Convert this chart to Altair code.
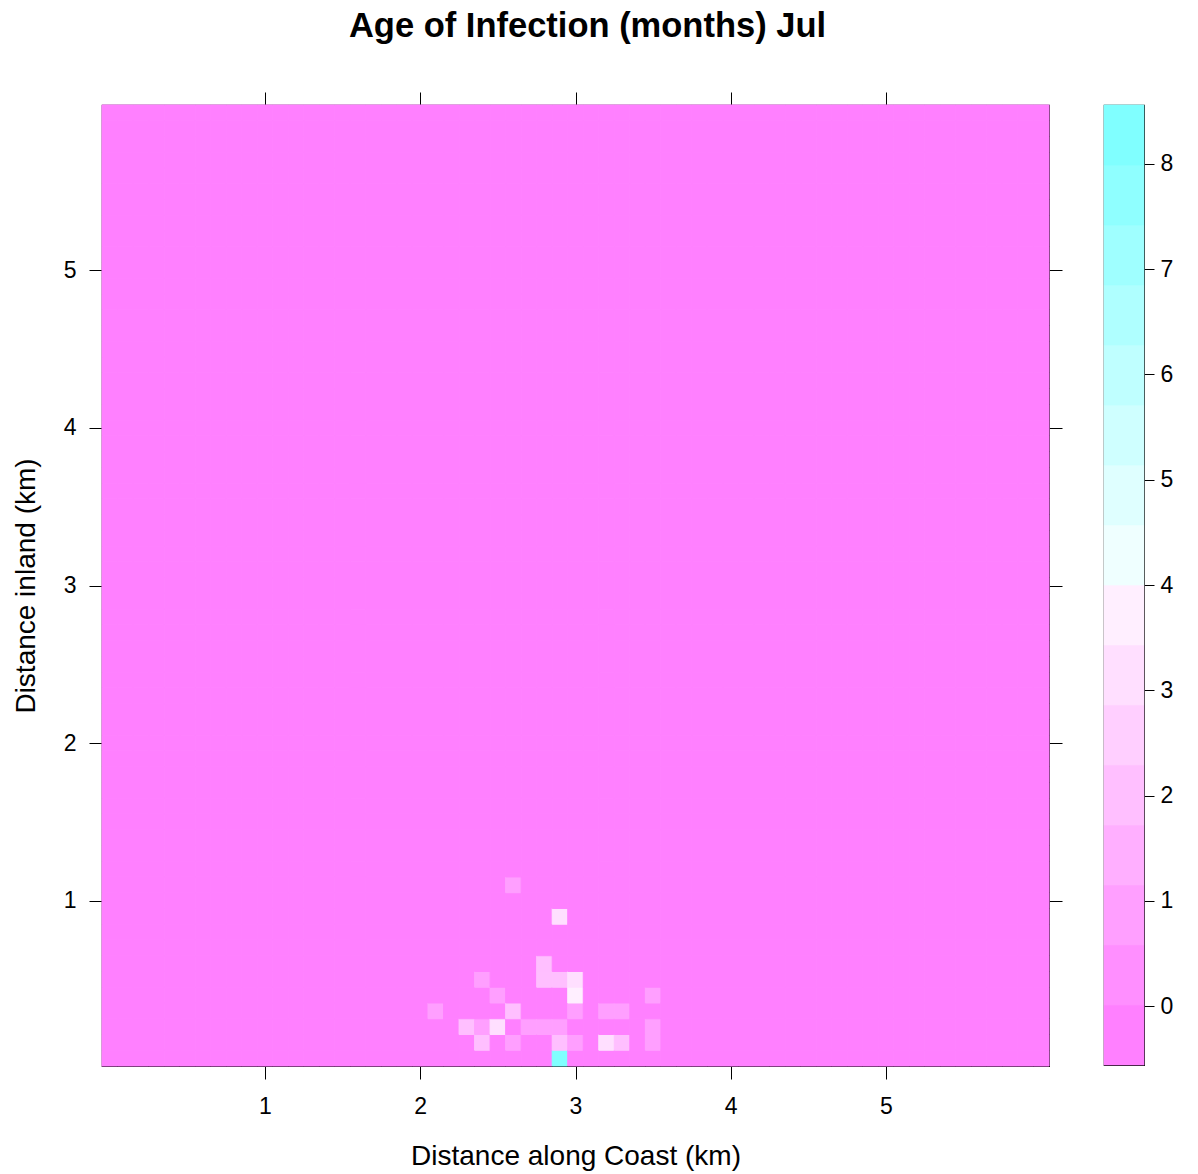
import altair as alt
import pandas as pd

# Cells with a non-zero mean age of infection (km along coast, km inland, months)
cell_x = [2.6, 2.9, 2.8,
          2.4, 2.8, 2.9, 3.0,
          2.5, 3.0, 3.5,
          2.1, 2.6, 3.0, 3.2, 3.3,
          2.3, 2.4, 2.5, 2.7, 2.8, 2.9, 3.5,
          2.4, 2.6, 2.9, 3.0, 3.2, 3.3, 3.5,
          2.9]
cell_y = [1.1, 0.9, 0.6,
          0.5, 0.5, 0.5, 0.5,
          0.4, 0.4, 0.4,
          0.3, 0.3, 0.3, 0.3, 0.3,
          0.2, 0.2, 0.2, 0.2, 0.2, 0.2, 0.2,
          0.1, 0.1, 0.1, 0.1, 0.1, 0.1, 0.1,
          0.0]
cell_age = [1, 3, 2,
            1, 2, 2, 3,
            1, 3.9, 1,
            1, 2, 1, 1, 1,
            2, 1, 3, 1, 1, 1, 1,
            2, 1, 2, 1, 3, 2, 1,
            8]

# 0.1 km grid covering 0..6 km in both directions
grid_steps = 61
grid_step = 0.1

axis_ticks = [1, 2, 3, 4, 5]
key_ticks = [0, 1, 2, 3, 4, 5, 6, 7, 8]

# reversed cm.colors(16): magenta -> white -> cyan
palette = ["#FF80FF", "#FF8FFF", "#FF9FFF", "#FFAFFF", "#FFBFFF", "#FFCFFF",
           "#FFDFFF", "#FFEFFF", "#EFFFFF", "#DFFFFF", "#CFFFFF", "#BFFFFF",
           "#AFFFFF", "#9FFFFF", "#8FFFFF", "#80FFFF"]

FONT = "Liberation Sans"

# full grid, zero everywhere except the listed cells
ages = {(round(x, 1), round(y, 1)): a for x, y, a in zip(cell_x, cell_y, cell_age)}
rows = []
for i in range(grid_steps):
    for j in range(grid_steps):
        gx, gy = round(i * grid_step, 1), round(j * grid_step, 1)
        rows.append({"x": gx, "y": gy, "age": ages.get((gx, gy), 0)})
grid = pd.DataFrame(rows)

# level breaks: data range padded by 7% on each side, 16 equal bands
z_lo, z_hi = min(grid["age"]), max(grid["age"])
pad = 0.07 * (z_hi - z_lo)
n_bands = len(palette)
breaks = [z_lo - pad + k * (z_hi - z_lo + 2 * pad) / n_bands for k in range(n_bands + 1)]

color_scale = alt.Scale(type="threshold", domain=breaks[1:-1], range=palette)

half = grid_step / 2
x_dom = [-half, (grid_steps - 1) * grid_step + half]
y_dom = x_dom

heat = alt.Chart(grid).transform_calculate(
    x0=f"datum.x - {half}", x1=f"datum.x + {half}",
    y0=f"datum.y - {half}", y1=f"datum.y + {half}",
).mark_rect(strokeWidth=1).encode(
    x=alt.X("x0:Q", scale=alt.Scale(domain=x_dom, nice=False, zero=False),
            axis=alt.Axis(values=axis_ticks, format="d", grid=False, domain=False,
                          tickSize=13, tickColor="black", tickWidth=1,
                          labelFontSize=23, labelFont=FONT, labelColor="black",
                          labelPadding=16, title="Distance along Coast (km)",
                          titleFontSize=28, titleFont=FONT, titleFontWeight="normal",
                          titleColor="black", titlePadding=24)),
    x2="x1:Q",
    y=alt.Y("y0:Q", scale=alt.Scale(domain=y_dom, nice=False, zero=False),
            axis=alt.Axis(values=axis_ticks, format="d", grid=False, domain=False,
                          tickSize=13, tickColor="black", tickWidth=1,
                          labelFontSize=23, labelFont=FONT, labelColor="black",
                          labelPadding=13, title="Distance inland (km)",
                          titleFontSize=28, titleFont=FONT, titleFontWeight="normal",
                          titleColor="black", titlePadding=23)),
    y2="y1:Q",
    color=alt.Color("age:Q", scale=color_scale, legend=None),
    stroke=alt.Stroke("age:Q", scale=color_scale, legend=None),
)

# mirrored tick marks on the top and right edges
tick_df = pd.DataFrame({"t": axis_ticks})
mirror = alt.Chart(tick_df).mark_point(opacity=0).encode(
    x=alt.X("t:Q", scale=alt.Scale(domain=x_dom, nice=False, zero=False),
            axis=alt.Axis(orient="top", values=axis_ticks, labels=False, title=None,
                          grid=False, domain=False, tickSize=13, tickColor="black")),
    y=alt.Y("t:Q", scale=alt.Scale(domain=y_dom, nice=False, zero=False),
            axis=alt.Axis(orient="right", values=axis_ticks, labels=False, title=None,
                          grid=False, domain=False, tickSize=13, tickColor="black")),
)

main = alt.layer(heat, mirror).resolve_scale(x="independent", y="independent").properties(
    width=947, height=961
)

# colour key
band_df = pd.DataFrame({
    "lo": breaks[:-1],
    "hi": breaks[1:],
    "mid": [(a + b) / 2 for a, b in zip(breaks[:-1], breaks[1:])],
})
key = alt.Chart(band_df).mark_rect(strokeWidth=0.6).encode(
    y=alt.Y("lo:Q", scale=alt.Scale(domain=[breaks[0], breaks[-1]], nice=False, zero=False),
            axis=alt.Axis(orient="right", values=key_ticks, format="d", grid=False,
                          domain=False, tickSize=10, tickColor="black",
                          labelFontSize=23, labelFont=FONT, labelColor="black",
                          labelPadding=6, title=None)),
    y2="hi:Q",
    color=alt.Color("mid:Q", scale=color_scale, legend=None),
    stroke=alt.Stroke("mid:Q", scale=color_scale, legend=None),
).properties(width=40, height=960)

chart = alt.hconcat(main, key, spacing=39).properties(
    title=alt.TitleParams("Age of Infection (months) Jul", fontSize=34.5, font=FONT,
                          fontWeight="bold", color="black", anchor="middle", offset=46,
                          dx=-5),
    padding={"left": 11, "top": 9, "right": 10, "bottom": 5},
    background="white",
).configure_view(stroke="black", strokeWidth=1.2)

chart.save("out.html", embed_options={"renderer": "svg", "actions": False})
